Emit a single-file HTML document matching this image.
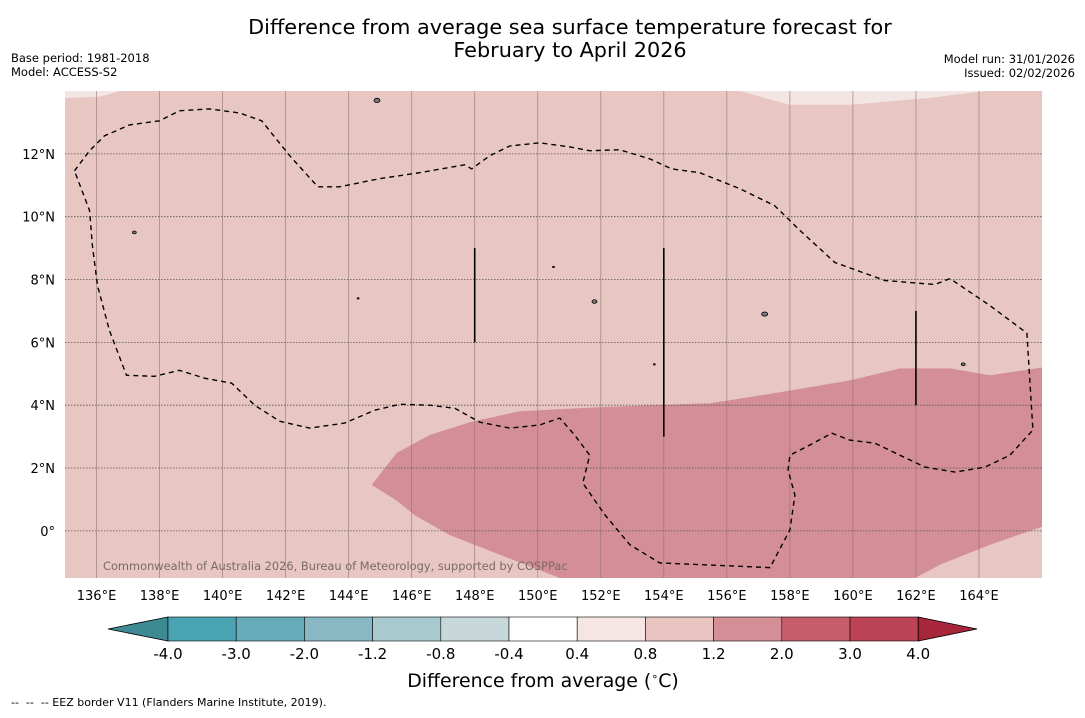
<!DOCTYPE html>
<html><head><meta charset="utf-8">
<style>
html,body{margin:0;padding:0;background:#fff;}
body{width:1085px;height:713px;overflow:hidden;font-family:"Liberation Sans","DejaVu Sans",sans-serif;}
svg text{font-family:"DejaVu Sans","Liberation Sans",sans-serif;}
</style></head>
<body>
<svg id="chart" width="1085" height="713" xmlns="http://www.w3.org/2000/svg">
<text x="570" y="34" font-size="20.8" text-anchor="middle">Difference from average sea surface temperature forecast for</text>
<text x="570" y="57" font-size="20.8" text-anchor="middle">February to April 2026</text>
<text x="11" y="62" font-size="11.5">Base period: 1981-2018</text>
<text x="11" y="76" font-size="11.5">Model: ACCESS-S2</text>
<text x="1075" y="63" font-size="11.5" text-anchor="end">Model run: 31/01/2026</text>
<text x="1075" y="77" font-size="11.5" text-anchor="end">Issued: 02/02/2026</text>
<g id="map"></g>
<g id="cbar"></g>
<text x="543" y="687" font-size="18.9" text-anchor="middle">Difference from average (<tspan font-size="11" dy="-7">∘</tspan><tspan dy="7">C)</tspan></text>
<text x="11" y="706" font-size="11" xml:space="preserve">--  --  -- EEZ border V11 (Flanders Marine Institute, 2019).</text>
</svg>
<script>
const lonTicks=[136,138,140,142,144,146,148,150,152,154,156,158,160,162,164];
const latTicks=[0,2,4,6,8,10,12];
const darkRegion=[[144.73,1.46],[145.52,2.48],[146.57,3.05],[147.84,3.46],[149.43,3.81],[151.97,3.94],[155.46,4.06],[157.68,4.41],[159.9,4.79],[161.49,5.17],[163.08,5.17],[164.35,4.95],[166,5.2],[166,0.13],[164.35,-0.44],[162.76,-1.08],[161.97,-1.5],[150.7,-1.5],[148.8,-0.76],[147.2,-0.13],[146.1,0.5],[145.5,0.98]];
const lightRegionNE=[[156.41,14],[157.99,13.56],[159.9,13.56],[162.44,13.78],[164.19,14]];
const lightRegionNW=[[135,13.78],[136.1,13.82],[136.75,14]];
const eezLine=[[135.30,11.46],[135.78,12.10],[136.25,12.57],[137.05,12.92],[138.00,13.05],[138.63,13.37],[139.59,13.43],[140.54,13.30],[141.24,13.05],[142.13,11.94],[143.02,10.95],[143.71,10.95],[144.98,11.21],[146.25,11.40],[147.68,11.65],[147.90,11.52],[148.48,11.94],[149.11,12.25],[150.06,12.35],[151.02,12.22],[151.65,12.10],[152.60,12.13],[153.56,11.84],[154.25,11.52],[155.14,11.40],[156.41,10.89],[157.52,10.35],[158.32,9.56],[159.43,8.54],[161.02,7.97],[162.60,7.84],[163.08,8.03],[164.35,7.17],[165.52,6.29],[165.71,3.21],[164.98,2.41],[164.19,2.03],[163.24,1.87],[162.29,2.03],[161.49,2.41],[160.70,2.79],[159.90,2.89],[159.33,3.11],[158.63,2.73],[158.00,2.41],[157.94,1.94],[158.16,1.14],[158.00,0.03],[157.37,-1.17],[153.87,-1.02],[152.92,-0.44],[152.13,0.51],[151.43,1.52],[151.65,2.41],[151.17,3.05],[150.70,3.59],[150.06,3.37],[149.11,3.27],[148.16,3.46],[147.37,3.90],[146.57,4.00],[145.62,4.03],[144.83,3.84],[143.87,3.43],[142.76,3.27],[141.81,3.49],[141.02,4.00],[140.29,4.70],[139.43,4.86],[138.63,5.11],[137.84,4.92],[136.95,4.95],[136.41,6.38],[136.03,7.81],[135.87,9.08],[135.78,10.19],[135.30,11.46]];
const eezSegments=[[148,9,6],[154,9,3],[162,7,4]];
const islands=[[150.5,8.4,1],[157.2,6.9,3],[144.9,13.7,3],[137.2,9.5,2],[151.8,7.3,2.5],[163.5,5.3,2],[153.7,5.3,1],[144.3,7.4,1],[134.8,-0.7,4]];
const cbLevels=["-4.0","-3.0","-2.0","-1.2","-0.8","-0.4","0.4","0.8","1.2","2.0","3.0","4.0"];
const cbColors=["#4aa3b3","#67abba","#88b8c3","#a8c9ce","#c8d8da","#ffffff","#f5e5e3","#e8c5c1","#d48f96","#c65e6c","#bd4455"];
const cbLow="#3e8a93", cbHigh="#a8263a";

const NS="http://www.w3.org/2000/svg";
const L=65,R=1042,T=91,B=578, lon0=135,lon1=166,lat0=-1.5,lat1=14;
const x=lon=>L+(lon-lon0)/(lon1-lon0)*(R-L);
const y=lat=>B-(lat-lat0)/(lat1-lat0)*(B-T);
function mk(tag,attrs,parent){const e=document.createElementNS(NS,tag);for(const k in attrs)e.setAttribute(k,attrs[k]);parent.appendChild(e);return e;}
const map=document.getElementById('map');
const clip=mk('clipPath',{id:'mc'},map);mk('rect',{x:L,y:T,width:R-L,height:B-T},clip);
const g=mk('g',{'clip-path':'url(#mc)'},map);
const bg=mk('rect',{x:L,y:T,width:R-L,height:B-T,fill:'#e8c7c3'},g);


const pts=a=>a.map(p=>x(p[0]).toFixed(1)+','+y(p[1]).toFixed(1)).join(' ');
const d1=mk('polygon',{points:pts(darkRegion),fill:'#d48f96'},g);


const l1=mk('polygon',{points:pts(lightRegionNE.concat([[166,14]])),fill:'#f3e5e3'},g);


const l2=mk('polygon',{points:pts(lightRegionNW.concat([[135,14]])),fill:'#f3e5e3'},g);


lonTicks.forEach(v=>{const ln=mk('line',{x1:x(v),x2:x(v),y1:T,y2:B,stroke:'#8a6e6c','stroke-width':0.8,opacity:0.7},g);


const t=mk('text',{x:x(v),y:600,'font-size':13,'text-anchor':'middle'},map);t.textContent=v+'°E';

});
latTicks.forEach(v=>{const ln=mk('line',{x1:L,x2:R,y1:y(v),y2:y(v),stroke:'#555','stroke-width':0.8,'stroke-dasharray':'1.5,1.5'},g);


const t=mk('text',{x:55,y:y(v)+5,'font-size':13,'text-anchor':'end'},map);t.textContent=v===0?'0°':v+'°N';

});
const eez=mk('polyline',{points:pts(eezLine),fill:'none',stroke:'#000','stroke-width':1.4,'stroke-dasharray':'5,4'},g);


eezSegments.forEach(s=>{const ln=mk('line',{x1:x(s[0]),x2:x(s[0]),y1:y(s[1]),y2:y(s[2]),stroke:'#000','stroke-width':1.6},g);

});
islands.forEach(s=>{const e=mk('ellipse',{cx:x(s[0]),cy:y(s[1]),rx:s[2],ry:s[2]*0.7,fill:'#777',stroke:'#000','stroke-width':0.8},g);

});
const wm=mk('text',{x:103,y:570,'font-size':11.4,fill:'#7a6a68'},g);wm.textContent='Commonwealth of Australia 2026, Bureau of Meteorology, supported by COSPPac';



const cb=document.getElementById('cbar');
const cx0=168,cw=68.2,cy=617,ch=24;
const lt=mk('polygon',{points:`${cx0},${cy} 108,${cy+ch/2} ${cx0},${cy+ch}`,fill:cbLow,stroke:'#000','stroke-width':0.8},cb);


cbColors.forEach((c,i)=>{const r=mk('rect',{x:cx0+i*cw,y:cy,width:cw,height:ch,fill:c,stroke:'#000','stroke-width':0.6},cb);

});
const xe=cx0+cbColors.length*cw;
const ht=mk('polygon',{points:`${xe},${cy} 977,${cy+ch/2} ${xe},${cy+ch}`,fill:cbHigh,stroke:'#000','stroke-width':0.8},cb);


cbLevels.forEach((v,i)=>{const t=mk('text',{x:cx0+i*cw,y:659,'font-size':15,'text-anchor':'middle'},cb);t.textContent=v;

});
</script>
</body></html>
